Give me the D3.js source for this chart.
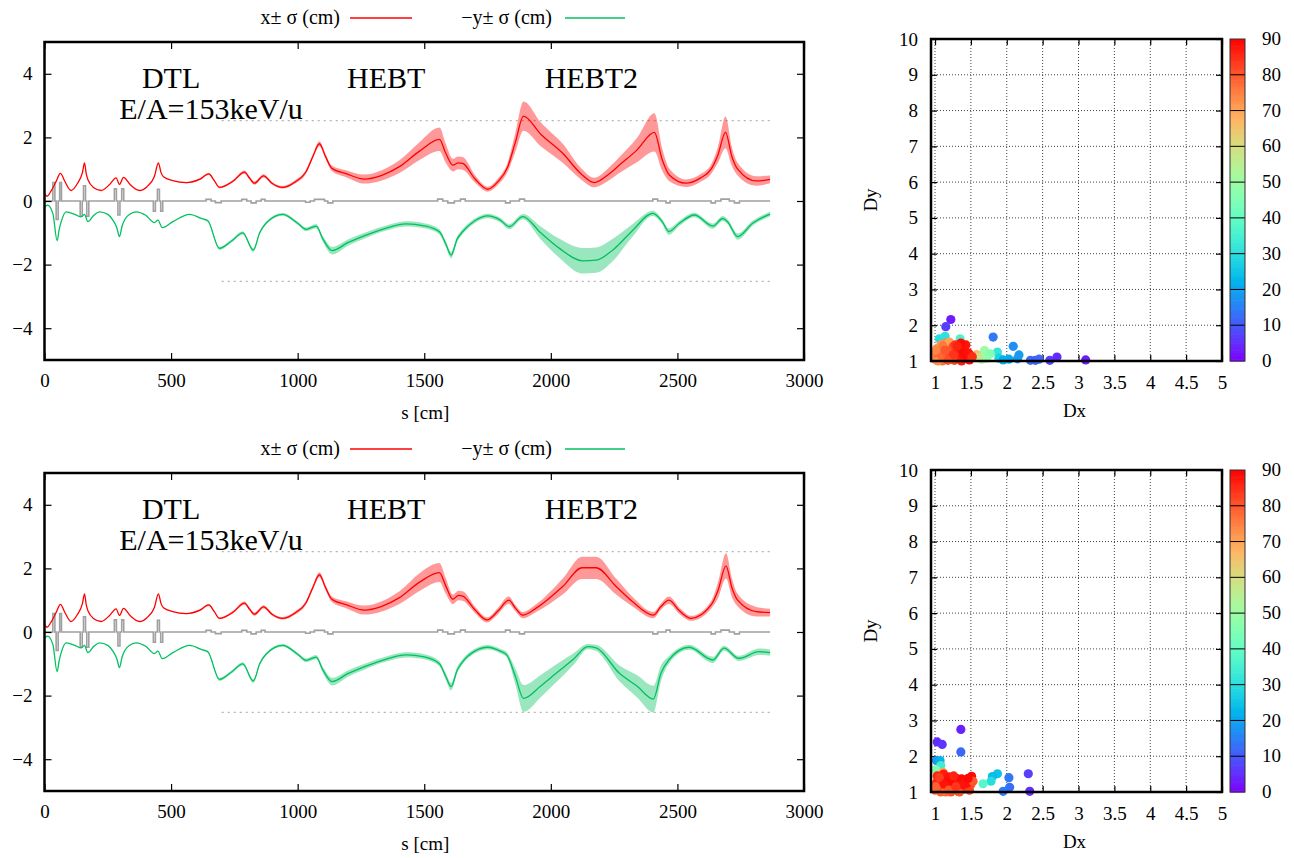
<!DOCTYPE html>
<html><head><meta charset="utf-8">
<script src="https://cdn.jsdelivr.net/npm/d3@7"></script>
<style>
body{margin:0;background:#fff}
svg{display:block}
text{font-family:"Liberation Serif","Times New Roman",serif;fill:#000}
</style>
</head><body>
<svg id="chart" width="1294" height="858"></svg>
<script>
// ---------- beam envelope data (s in cm, centroid and rms in cm) ----------
// common part: DTL + first part of HEBT
const sXEarly   = [0,10,25,45,63,80,105,130,150,158,165,172,195,224,255,283,296,312,340,375,405,434,450,460,470,507,560,612,649,670,691,744,790,810,829,865,900,939,990,1033,1060,1086,1110,1135,1191,1264,1330,1402,1480];
const xMeanEarly = [0.22,0.15,0.3,0.6,0.87,0.62,0.33,0.55,0.9,1.2,0.85,0.66,0.42,0.33,0.5,0.73,0.52,0.74,0.5,0.33,0.45,0.77,1.2,0.9,0.76,0.64,0.58,0.68,0.85,0.65,0.43,0.62,0.91,0.72,0.56,0.79,0.55,0.43,0.6,0.92,1.4,1.8,1.4,1.03,0.86,0.69,0.8,1.08,1.56];
const xSigEarly  = [0,0,0,0,0,0,0,0,0,0,0,0,0,0,0,0,0,0,0,0,0,0,0,0,0,0,0.02,0.03,0.03,0.03,0.03,0.04,0.05,0.05,0.05,0.05,0.04,0.04,0.05,0.06,0.07,0.08,0.08,0.09,0.11,0.14,0.16,0.2,0.28];

const sYEarly   = [0,12,33,50,58,66,86,120,145,158,171,195,217,250,270,286,296,306,316,340,362,400,434,448,465,507,573,620,645,691,740,783,825,850,875,941,1000,1033,1073,1100,1136,1200,1270,1350,1428,1500];
const yMeanEarly = [-0.2,-0.13,-0.39,-1.25,-0.9,-0.65,-0.34,-0.42,-0.5,-0.42,-0.65,-0.45,-0.34,-0.42,-0.6,-0.85,-1.12,-0.8,-0.6,-0.4,-0.34,-0.45,-0.68,-0.6,-0.84,-0.65,-0.42,-0.55,-0.62,-1.49,-1.25,-1.0,-1.54,-1.0,-0.7,-0.42,-0.7,-0.89,-0.79,-1.2,-1.56,-1.3,-1.07,-0.85,-0.72,-0.78];
const ySigEarly  = [0,0,0,0,0,0,0,0,0,0,0,0,0,0,0,0,0,0,0,0,0,0,0,0,0,0,0,0.02,0.03,0.05,0.05,0.05,0.06,0.05,0.04,0.04,0.05,0.06,0.07,0.09,0.12,0.1,0.09,0.08,0.08,0.08];

// HEBT / HEBT2, first setting
const sXLateA    = [1560,1585,1613,1635,1652,1700,1751,1790,1830,1860,1892,1960,2047,2120,2172,2230,2271,2340,2409,2440,2468,2534,2590,2633,2660,2690,2715,2738,2811,2866];
const xMeanLateA = [1.94,1.5,1.13,1.2,1.18,0.7,0.37,0.6,1.08,1.85,2.67,2.1,1.5,0.85,0.58,0.85,1.13,1.6,2.16,1.3,0.82,0.56,0.72,1.0,1.45,2.16,1.4,1.0,0.63,0.68];
const xSigLateA  = [0.37,0.3,0.2,0.2,0.2,0.12,0.08,0.1,0.15,0.3,0.46,0.38,0.3,0.18,0.15,0.2,0.25,0.38,0.6,0.35,0.2,0.12,0.12,0.15,0.25,0.5,0.3,0.2,0.15,0.12];
const sYLateA    = [1560,1585,1606,1630,1652,1700,1751,1800,1836,1889,1960,2034,2126,2179,2245,2320,2403,2440,2466,2508,2567,2640,2679,2698,2738,2797,2866];
const yMeanLateA = [-0.97,-1.35,-1.7,-1.2,-0.96,-0.62,-0.47,-0.6,-0.81,-0.49,-1.0,-1.49,-1.88,-1.86,-1.54,-0.95,-0.39,-0.65,-0.96,-0.7,-0.44,-0.79,-0.55,-0.65,-1.12,-0.7,-0.41];
const ySigLateA  = [0.08,0.09,0.1,0.09,0.08,0.07,0.07,0.07,0.08,0.08,0.2,0.3,0.4,0.4,0.35,0.2,0.08,0.08,0.1,0.08,0.07,0.08,0.08,0.08,0.1,0.08,0.07];

// HEBT / HEBT2, second setting
const sXLateB    = [1560,1585,1613,1635,1652,1700,1748,1790,1834,1860,1889,1942,2047,2123,2179,2258,2323,2405,2435,2466,2510,2554,2633,2660,2692,2715,2738,2811,2866];
const xMeanLateB = [1.87,1.45,1.03,1.15,1.13,0.7,0.38,0.65,1.0,0.75,0.53,0.75,1.43,2.02,2.02,1.43,0.95,0.53,0.8,1.0,0.65,0.43,0.85,1.3,2.08,1.4,1.0,0.64,0.61];
const xSigLateB  = [0.3,0.25,0.15,0.15,0.15,0.1,0.08,0.1,0.12,0.1,0.1,0.12,0.25,0.35,0.35,0.25,0.15,0.1,0.1,0.12,0.1,0.08,0.12,0.25,0.4,0.3,0.2,0.15,0.12];
const sYLateB    = [1560,1585,1606,1630,1652,1700,1751,1800,1826,1860,1892,1960,2021,2090,2146,2179,2271,2340,2405,2435,2466,2547,2640,2684,2742,2823,2866];
const yMeanLateB = [-1.0,-1.4,-1.72,-1.2,-0.93,-0.6,-0.48,-0.6,-0.72,-1.4,-2.09,-1.7,-1.3,-0.85,-0.46,-0.5,-1.3,-1.7,-2.11,-1.3,-0.88,-0.48,-0.88,-0.51,-0.83,-0.62,-0.65];
const ySigLateB  = [0.08,0.1,0.12,0.1,0.08,0.07,0.07,0.07,0.08,0.25,0.42,0.35,0.28,0.18,0.08,0.1,0.25,0.35,0.42,0.25,0.12,0.08,0.1,0.08,0.08,0.1,0.1];

// lattice elements (start, end, signed strength)
const elemStartEarly = [33,46,60,141,154,167,276,290,305,430,446,459,638,675,779,816,856,1031,1066,1119];
const elemEndEarly   = [41,54,67,149,162,175,284,298,313,438,454,467,658,698,799,836,871,1049,1106,1139];
const elemKEarly     = [0.58,-0.58,0.58,-0.48,0.48,-0.48,0.38,-0.44,0.38,-0.32,0.37,-0.32,0.05,-0.05,0.05,-0.06,0.05,-0.04,0.05,-0.06];
const elemStartLate  = [1553,1593,1643,1821,1876,2403,2455,2633,2672,2725];
const elemEndLate    = [1573,1619,1662,1839,1896,2422,2471,2650,2705,2745];
const elemKLateA     = [0.06,-0.06,0.06,-0.06,0.06,0.06,-0.06,-0.06,0.06,-0.06];
const elemKLateB     = [0.06,-0.06,0.06,0.06,-0.06,-0.06,0.06,-0.06,0.06,-0.06];
const latticeEnd = 2866;

const apertureLevels = [2.53, -2.53];
const apertureFrom = 700, apertureTo = 2870;

const sTicks = [0,500,1000,1500,2000,2500,3000];
const envTicks = [-4,-2,0,2,4];

const sectionNames = ["DTL","HEBT","HEBT2"];
const sectionPos = [500,1350,2160];
const energyLabel = "E/A=153keV/u";

// ---------- distortion factors per particle set (Dx, Dy, colour value) ----------
const dxA = [1.22,1.15,1.06,1.14,1.35,1.81,2.09,1.87,1.89,1.69,1.77,1.58,1.65,2.03,2.15,2.17,2.33,2.4,2.45,2.6,2.7,3.1,1.95,1.72,1.6,
  1.0,1.02,1.03,1.05,1.07,1.08,1.1,1.12,1.13,1.15,1.17,1.19,1.2,1.04,1.09,1.01,1.11,1.16,
  1.22,1.25,1.27,1.3,1.32,1.35,1.28,1.24,1.18,1.14,
  1.37,1.38,1.42,1.45,1.48,1.5,1.33,1.4,1.43,1.36,1.26,1.31,1.47,1.52];
const dyA = [2.16,1.96,1.62,1.69,1.62,1.67,1.41,1.25,1.08,1.29,1.2,1.18,1.05,1.05,1.06,1.17,1.02,1.02,1.05,1.02,1.11,1.03,1.03,1.08,1.1,
  1.05,1.2,1.35,1.1,1.28,1.45,1.0,1.18,1.38,1.5,1.08,1.3,1.53,1.0,1.15,1.3,1.42,1.22,
  1.15,1.4,1.02,1.25,1.1,1.32,1.45,1.05,1.02,1.3,
  1.0,1.2,1.08,1.15,1.03,1.1,1.35,1.28,1.45,1.5,1.18,1.42,1.22,1.12];
const cA = [3,7,30,31,36,14,17,32,28,50,45,66,52,21,18,19,12,11,12,7,5,3,22,48,58,
  75,76,74,78,75,72,77,79,76,74,80,79,70,73,78,74,76,79,
  82,81,83,84,85,86,84,82,81,80,
  87,88,88,89,89,86,88,89,88,89,84,86,88,85];

const dxB = [1.36,1.03,1.1,1.36,1.02,1.07,1.08,1.01,1.11,1.87,1.8,1.78,1.67,2.03,2.04,1.95,2.3,2.32,
  1.0,1.02,1.03,1.05,1.07,1.08,1.1,1.12,1.14,1.16,1.18,1.2,1.22,1.25,1.27,1.3,1.32,1.35,1.37,1.4,1.42,1.45,1.48,1.5,1.51,1.44,1.53,
  1.04,1.09,1.15,1.21,1.26,1.34,1.39,1.46,1.01,1.06,1.13,1.19,1.29];
const dyB = [2.75,2.4,2.33,2.12,1.88,1.88,1.74,1.62,1.55,1.51,1.43,1.3,1.23,1.4,1.13,1.02,1.51,1.02,
  1.05,1.25,1.45,1.12,1.35,1.0,1.2,1.5,1.05,1.3,1.15,1.42,1.0,1.25,1.1,1.38,1.02,1.2,1.37,1.08,1.28,1.15,1.05,1.22,1.44,1.24,1.3,
  1.32,1.1,1.0,1.3,1.45,1.0,1.2,1.38,1.15,1.4,1.22,1.05,1.15];
const cB = [4,5,6,12,19,22,34,45,70,25,24,30,38,14,13,15,7,5,
  80,84,86,82,88,79,85,87,83,89,86,88,81,89,84,88,82,87,89,85,88,86,83,82,89,88,80,
  87,81,78,89,86,80,88,89,79,83,88,80,84];

const dTicksX = [1,1.5,2,2.5,3,3.5,4,4.5,5];
const dTicksY = [1,2,3,4,5,6,7,8,9,10];
const cbTicks = [0,10,20,30,40,50,60,70,80,90];

// ---------- drawing ----------
const svg = d3.select("#chart");
const FS = 19;
const RED = "#ff0000", GREEN = "#00c060", GREY = "#a0a0a0";

// rainbow palette (rgbformulae 33,13,10)
function rainbow(v) {
  const t = Math.max(0, Math.min(1, v / 90));
  const r = Math.min(1, Math.abs(2 * t - 0.5));
  const g = Math.max(0, Math.sin(Math.PI * t));
  const b = Math.max(0, Math.cos(Math.PI * t / 2));
  return d3.rgb(r * 255, g * 255, b * 255).formatHex();
}

function zipEnv(s, m, e) { return s.map((v, i) => ({ s: v, m: m[i], e: e[i] })); }

function latticePath(starts, ends, ks) {
  const pts = [[0, 0]];
  starts.forEach((s0, i) => {
    pts.push([s0, 0], [s0, ks[i]], [ends[i], ks[i]], [ends[i], 0]);
  });
  pts.push([latticeEnd, 0]);
  return pts;
}

function envelopePanel(top, xEnv, yEnv, lattice, legendY) {
  const L = 44.5, R = 804, T = top, B = top + 318;
  const x = d3.scaleLinear().domain([0, 3000]).range([L, R]);
  const y = d3.scaleLinear().domain([-5, 5]).range([B, T]);
  const g = svg.append("g");

  // aperture limits
  apertureLevels.forEach(v => {
    g.append("line").attr("x1", x(apertureFrom)).attr("x2", x(apertureTo))
      .attr("y1", y(v)).attr("y2", y(v))
      .attr("stroke", "#b4b4b4").attr("stroke-width", 1.2).attr("stroke-dasharray", "2,4");
  });

  // lattice
  g.append("path").datum(lattice)
    .attr("d", d3.line().x(d => x(d[0])).y(d => y(d[1])))
    .attr("fill", "none").attr("stroke", GREY).attr("stroke-width", 1.6);

  const area = d3.area().x(d => x(d.s)).y0(d => y(d.m - d.e)).y1(d => y(d.m + d.e)).curve(d3.curveMonotoneX);
  const line = d3.line().x(d => x(d.s)).y(d => y(d.m)).curve(d3.curveMonotoneX);

  [[xEnv, RED], [yEnv, GREEN]].forEach(([data, col]) => {
    g.append("path").datum(data).attr("d", area).attr("fill", col).attr("fill-opacity", 0.4).attr("stroke", "none");
  });
  [[xEnv, RED], [yEnv, GREEN]].forEach(([data, col]) => {
    g.append("path").datum(data).attr("d", line).attr("fill", "none").attr("stroke", col).attr("stroke-width", 1.3);
  });

  // axes with inward ticks on all sides
  const styleAxis = sel => { sel.select(".domain").remove(); sel.selectAll("text").attr("font-size", FS).attr("font-family", "Liberation Serif"); sel.selectAll("line").attr("stroke", "#000").attr("stroke-width", 1.2); };
  g.append("g").attr("transform", `translate(0,${B})`)
    .call(d3.axisBottom(x).tickValues(sTicks).tickFormat(d3.format("d")).tickSize(-7).tickPadding(14)).call(styleAxis);
  g.append("g").attr("transform", `translate(0,${T})`)
    .call(d3.axisTop(x).tickValues(sTicks).tickFormat("").tickSize(-7)).call(styleAxis);
  g.append("g").attr("transform", `translate(${L},0)`)
    .call(d3.axisLeft(y).tickValues(envTicks).tickFormat(d3.format("d")).tickSize(-7).tickPadding(12)).call(styleAxis);
  g.append("g").attr("transform", `translate(${R},0)`)
    .call(d3.axisRight(y).tickValues(envTicks).tickFormat("").tickSize(-7)).call(styleAxis);

  g.append("rect").attr("x", L).attr("y", T).attr("width", R - L).attr("height", B - T)
    .attr("fill", "none").attr("stroke", "#000").attr("stroke-width", 2.5);

  g.append("text").attr("x", (L + R) / 2 + 1).attr("y", B + 59).attr("text-anchor", "middle").attr("font-size", FS).text("s [cm]");

  // section labels
  sectionNames.forEach((n, i) => {
    g.append("text").attr("x", x(sectionPos[i])).attr("y", T + 46).attr("text-anchor", "middle").attr("font-size", 30).text(n);
  });
  g.append("text").attr("x", 211).attr("y", T + 77).attr("text-anchor", "middle").attr("font-size", 30).text(energyLabel);

  // legend
  const leg = [["x\u00b1 \u03c3 (cm)", RED, 340, 350, 412], ["\u2212y\u00b1 \u03c3 (cm)", GREEN, 552, 565, 625]];
  leg.forEach(([t, col, tx, l1, l2]) => {
    g.append("text").attr("x", tx).attr("y", legendY + 6).attr("text-anchor", "end").attr("font-size", 20).text(t);
    g.append("line").attr("x1", l1).attr("x2", l2).attr("y1", legendY).attr("y2", legendY).attr("stroke", col).attr("stroke-width", 1.3);
  });
}

function scatterPanel(top, dx, dy, cv) {
  const L = 931, R = 1222, T = top, B = top + 322;
  const x = d3.scaleLinear().domain([0.944, 5]).range([L, R]);
  const y = d3.scaleLinear().domain([1, 10]).range([B, T]);
  const g = svg.append("g");

  // grid
  dTicksX.forEach(v => g.append("line").attr("x1", x(v)).attr("x2", x(v)).attr("y1", T).attr("y2", B)
    .attr("stroke", "#444").attr("stroke-width", 1).attr("stroke-dasharray", "1,2"));
  dTicksY.forEach(v => g.append("line").attr("x1", L).attr("x2", R).attr("y1", y(v)).attr("y2", y(v))
    .attr("stroke", "#444").attr("stroke-width", 1).attr("stroke-dasharray", "1,2"));

  const styleAxis = sel => { sel.select(".domain").remove(); sel.selectAll("text").attr("font-size", FS).attr("font-family", "Liberation Serif"); sel.selectAll("line").attr("stroke", "#000").attr("stroke-width", 1.2); };
  const fmt = v => String(v);
  g.append("g").attr("transform", `translate(0,${B})`)
    .call(d3.axisBottom(x).tickValues(dTicksX).tickFormat(fmt).tickSize(-6).tickPadding(15)).call(styleAxis);
  g.append("g").attr("transform", `translate(0,${T})`)
    .call(d3.axisTop(x).tickValues(dTicksX).tickFormat("").tickSize(-6)).call(styleAxis);
  g.append("g").attr("transform", `translate(${L},0)`)
    .call(d3.axisLeft(y).tickValues(dTicksY).tickFormat(fmt).tickSize(-6).tickPadding(13)).call(styleAxis);
  g.append("g").attr("transform", `translate(${R},0)`)
    .call(d3.axisRight(y).tickValues(dTicksY).tickFormat("").tickSize(-6)).call(styleAxis);

  // particles
  const pts = dx.map((v, i) => ({ dx: v, dy: dy[i], c: cv[i] }));
  g.selectAll("circle.p").data(pts).enter().append("circle")
    .attr("cx", d => x(d.dx)).attr("cy", d => y(d.dy)).attr("r", 4.6)
    .attr("fill", d => rainbow(d.c));

  g.append("rect").attr("x", L).attr("y", T).attr("width", R - L).attr("height", B - T)
    .attr("fill", "none").attr("stroke", "#000").attr("stroke-width", 2.5);

  g.append("text").attr("x", (L + R) / 2 - 2).attr("y", B + 56).attr("text-anchor", "middle").attr("font-size", FS).text("Dx");
  g.append("text").attr("transform", `translate(877,${(T + B) / 2}) rotate(-90)`).attr("text-anchor", "middle").attr("font-size", FS).text("Dy");

  // colour box
  const cx0 = 1230, cw = 15;
  const cy = d3.scaleLinear().domain([0, 90]).range([B, T]);
  const steps = d3.range(0, 90, 0.5);
  g.selectAll("rect.cb").data(steps).enter().append("rect")
    .attr("x", cx0).attr("width", cw)
    .attr("y", d => cy(d + 0.5)).attr("height", d => cy(d) - cy(d + 0.5) + 0.6)
    .attr("fill", d => rainbow(d + 0.25));
  cbTicks.forEach(v => {
    if (v > 0 && v < 90) g.append("line").attr("x1", cx0).attr("x2", cx0 + cw).attr("y1", cy(v)).attr("y2", cy(v)).attr("stroke", "#000").attr("stroke-width", 1);
    g.append("text").attr("x", cx0 + 32).attr("y", cy(v)).attr("dy", "0.32em").attr("font-size", FS).text(v);
  });
  g.append("rect").attr("x", cx0).attr("y", T).attr("width", cw).attr("height", B - T)
    .attr("fill", "none").attr("stroke", "#333").attr("stroke-width", 1);
}

const xEnvA = zipEnv(sXEarly.concat(sXLateA), xMeanEarly.concat(xMeanLateA), xSigEarly.concat(xSigLateA));
const yEnvA = zipEnv(sYEarly.concat(sYLateA), yMeanEarly.concat(yMeanLateA), ySigEarly.concat(ySigLateA));
const xEnvB = zipEnv(sXEarly.concat(sXLateB), xMeanEarly.concat(xMeanLateB), xSigEarly.concat(xSigLateB));
const yEnvB = zipEnv(sYEarly.concat(sYLateB), yMeanEarly.concat(yMeanLateB), ySigEarly.concat(ySigLateB));

const latA = latticePath(elemStartEarly.concat(elemStartLate), elemEndEarly.concat(elemEndLate), elemKEarly.concat(elemKLateA));
const latB = latticePath(elemStartEarly.concat(elemStartLate), elemEndEarly.concat(elemEndLate), elemKEarly.concat(elemKLateB));

envelopePanel(42, xEnvA, yEnvA, latA, 18);
envelopePanel(473, xEnvB, yEnvB, latB, 449);
scatterPanel(39, dxA, dyA, cA);
scatterPanel(470, dxB, dyB, cB);
</script>
</body></html>
